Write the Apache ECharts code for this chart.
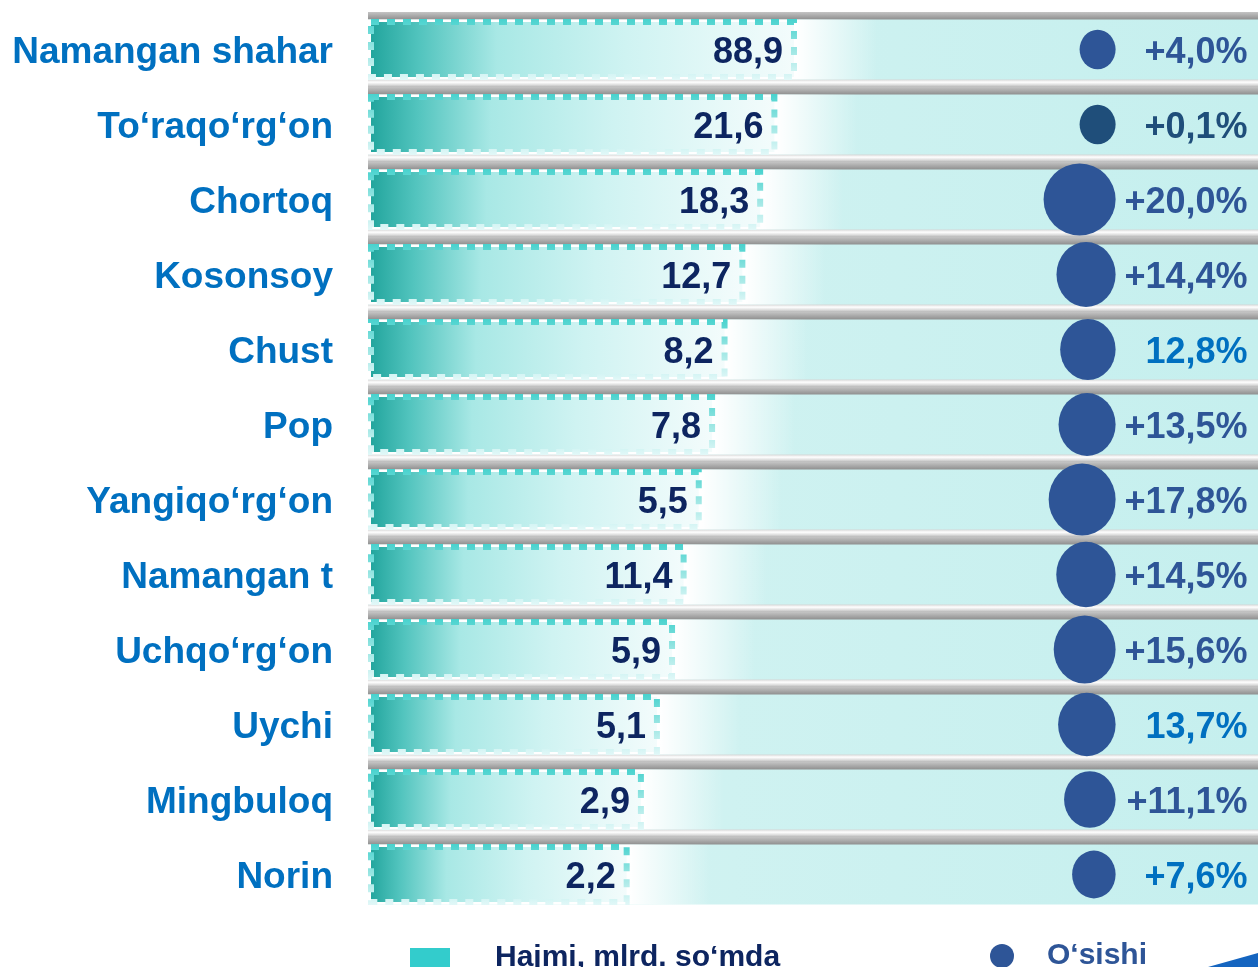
<!DOCTYPE html>
<html>
<head>
<meta charset="utf-8">
<script src="https://cdn.jsdelivr.net/npm/echarts@6/dist/echarts.min.js"></script>
<style>
  html, body { margin: 0; padding: 0; background: #fff; }
  #main { width: 1258px; height: 967px; }
</style>
</head>
<body>
<div id="main"></div>
<script>
// rows, top to bottom
const categories = ['Namangan shahar', 'To‘raqo‘rg‘on', 'Chortoq', 'Kosonsoy', 'Chust', 'Pop',
  'Yangiqo‘rg‘on', 'Namangan t', 'Uchqo‘rg‘on', 'Uychi', 'Mingbuloq', 'Norin'];
// Hajmi, mlrd. so'mda
const volume = [88.9, 21.6, 18.3, 12.7, 8.2, 7.8, 5.5, 11.4, 5.9, 5.1, 2.9, 2.2];
// drawn bar length (% of the track) - the picture does not scale bars by value
const barLength = [48.2, 46.0, 44.4, 42.4, 40.4, 39.0, 37.5, 35.8, 34.5, 32.8, 31.0, 29.4];
// O'sishi
const growthText = ['+4,0%', '+0,1%', '+20,0%', '+14,4%', '12,8%', '+13,5%',
  '+17,8%', '+14,5%', '+15,6%', '13,7%', '+11,1%', '+7,6%'];

const growth = growthText.map(s => parseFloat(s.replace('+', '').replace('%', '').replace(',', '.')));
const fmt = v => String(v).replace('.', ',');

const FONT = 'Liberation Sans, Arial, sans-serif';
const NAVY = '#0D2560';
const BLUE = '#0070C0';
const BUBBLE = '#2E5597';
const brightLabels = [4, 9, 11];   // percent labels drawn in lighter blue
const darkBubble = [1];

const FADE = 9;        // white fade after each bar end
const BUBBLE_X = 84;   // right edge of bubbles
const full = categories.map(() => 100);

const bubbleW = g => Math.max(36, 26 + 2.3 * g);

const tube = last => new echarts.graphic.LinearGradient(0, 0, 0, 1, last ? [
  { offset: 0, color: '#c4c4c4' },
  { offset: 0.1, color: '#8f8f8f' },
  { offset: 0.11, color: '#d0f2f1' },
  { offset: 0.89, color: '#d0f2f1' },
  { offset: 0.9, color: '#ffffff' },
  { offset: 1, color: '#ffffff' }
] : [
  { offset: 0, color: '#c4c4c4' },
  { offset: 0.1, color: '#8f8f8f' },
  { offset: 0.11, color: '#d0f2f1' },
  { offset: 0.89, color: '#d0f2f1' },
  { offset: 0.9, color: '#d6d6d6' },
  { offset: 0.935, color: '#ffffff' },
  { offset: 0.97, color: '#dedede' },
  { offset: 1, color: '#b8b8b8' }
]);

const chart = echarts.init(document.getElementById('main'));

const yBase = {
  type: 'category', data: categories, inverse: true,
  axisLine: { show: false }, axisTick: { show: false }
};

chart.setOption({
  animation: false,
  grid: { left: 368, right: 0, top: 12, height: 900, containLabel: false },
  xAxis: { type: 'value', min: 0, max: 100, show: false },
  yAxis: [
    Object.assign({}, yBase, {
      axisLabel: {
        margin: 35,
        formatter: v => '{c|' + v + '}',
        rich: { c: { color: BLUE, fontSize: 37, fontWeight: 'bold', fontFamily: FONT, padding: [7, 0, 0, 0] } }
      }
    }),
    Object.assign({}, yBase, { show: false }),
    Object.assign({}, yBase, { show: false }),
    Object.assign({}, yBase, { show: false })
  ],
  legend: [
    {
      left: 405, top: 938, itemWidth: 40, itemHeight: 20, icon: 'rect',
      selectedMode: false,
      data: [{ name: 'Hajmi, mlrd. so‘mda', itemStyle: { color: '#33CCCC', borderWidth: 0 } }],
      textStyle: { color: NAVY, fontSize: 30, fontWeight: 'bold', fontFamily: FONT, padding: [0, 0, 0, 40] }
    },
    {
      left: 985, top: 936, itemWidth: 24, itemHeight: 24, icon: 'circle',
      selectedMode: false,
      data: [{ name: 'O‘sishi', itemStyle: { color: BUBBLE } }],
      textStyle: { color: BUBBLE, fontSize: 30, fontWeight: 'bold', fontFamily: FONT, padding: [0, 0, 0, 28] }
    }
  ],
  graphic: [
    {
      type: 'polygon', right: 0, bottom: 0, silent: true,
      shape: { points: [[0, 14], [50, 0], [50, 14]] },
      style: { fill: '#1565C0' }
    }
  ],
  series: [
    {
      // gray tube separators
      type: 'bar', yAxisIndex: 1, barWidth: 75, z: 1, silent: true,
      data: full.map((v, i) => ({ value: v, itemStyle: { color: tube(i === full.length - 1) } }))
    },
    {
      // cyan track
      type: 'bar', yAxisIndex: 2, barWidth: 60, z: 2, silent: true,
      data: full,
      itemStyle: {
        color: new echarts.graphic.LinearGradient(0, 0, 1, 0, [
          { offset: 0, color: '#d6f4f3' },
          { offset: 1, color: '#c5efee' }
        ])
      }
    },
    {
      // white fade after the bar end
      type: 'bar', yAxisIndex: 3, barWidth: 60, z: 3, silent: true,
      data: barLength.map(v => ({
        value: v + FADE,
        itemStyle: {
          color: new echarts.graphic.LinearGradient(0, 0, 1, 0, [
            { offset: 0, color: '#ffffff' },
            { offset: v / (v + FADE), color: '#ffffff' },
            { offset: 1, color: 'rgba(255,255,255,0)' }
          ])
        }
      }))
    },
    {
      name: 'Hajmi, mlrd. so‘mda',
      type: 'bar', yAxisIndex: 0, barWidth: 61, z: 4,
      data: barLength,
      itemStyle: {
        color: new echarts.graphic.LinearGradient(0, 0, 1, 0, [
          { offset: 0, color: '#1FA39B' },
          { offset: 0.12, color: '#52C4BE' },
          { offset: 0.3, color: '#A8E8E5' },
          { offset: 0.6, color: '#CFF3F2' },
          { offset: 1, color: '#F4FCFC' }
        ]),
        borderColor: new echarts.graphic.LinearGradient(0, 0, 0, 1, [
          { offset: 0, color: '#48D2CE' },
          { offset: 0.5, color: '#9BE6E3' },
          { offset: 1, color: '#E2F8F8' }
        ]),
        borderWidth: 6,
        borderType: [8, 8]
      },
      label: {
        show: true, position: 'insideRight', distance: 14, offset: [0, 4],
        formatter: p => fmt(volume[p.dataIndex]),
        color: NAVY, fontSize: 36, fontWeight: 'bold', fontFamily: FONT
      }
    },
    {
      name: 'O‘sishi',
      type: 'scatter', yAxisIndex: 0, z: 5,
      data: growth.map((g, i) => {
        const w = bubbleW(g);
        return {
          value: [BUBBLE_X, i],
          symbolSize: [w, Math.min(w * 1.1, 72)],
          symbolOffset: [-w / 2, 0],
          itemStyle: { color: darkBubble.includes(i) ? '#1F4E7A' : BUBBLE }
        };
      }),
      itemStyle: { color: BUBBLE, opacity: 1 }
    },
    {
      // percent labels, right aligned
      type: 'scatter', yAxisIndex: 0, z: 6, silent: true, symbolSize: 1,
      itemStyle: { color: 'rgba(0,0,0,0)', opacity: 1 },
      data: growthText.map((t, i) => ({
        value: [100, i],
        label: {
          show: true, position: 'left', distance: 10, opacity: 1, offset: [0, 4],
          formatter: t,
          color: brightLabels.includes(i) ? BLUE : (darkBubble.includes(i) ? '#1F4E7A' : BUBBLE),
          fontSize: 36, fontWeight: 'bold', fontFamily: FONT
        }
      }))
    }
  ]
});
</script>
</body>
</html>
